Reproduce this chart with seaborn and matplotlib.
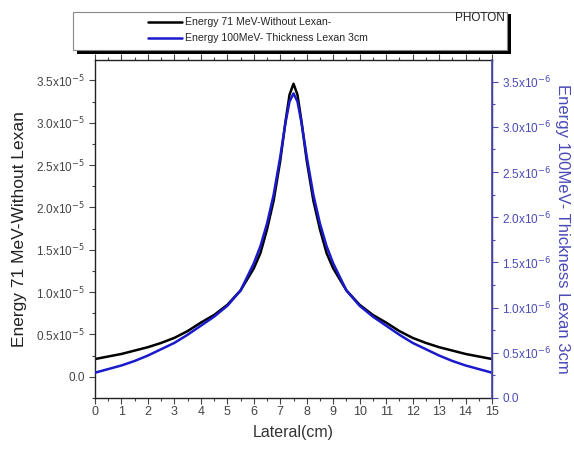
import numpy as np
import pandas as pd
import seaborn as sns
import matplotlib.pyplot as plt
from matplotlib.patches import Rectangle
from matplotlib.lines import Line2D
from matplotlib.ticker import MultipleLocator, FuncFormatter

sns.set_theme(style="white")
plt.rcParams['font.family'] = ['Liberation Sans', 'DejaVu Sans']

lateral = [0, 0.5, 1, 1.5, 2, 2.5, 3, 3.5, 4, 4.5, 5, 5.5, 6, 6.25, 6.5, 6.75, 7, 7.2, 7.35, 7.5,
           7.65, 7.8, 8, 8.25, 8.5, 8.75, 9, 9.5, 10, 10.5, 11, 11.5, 12, 12.5, 13, 13.5, 14, 14.5, 15]
energy71 = [0.21, 0.24, 0.27, 0.31, 0.35, 0.40, 0.46, 0.54, 0.64, 0.73, 0.85, 1.02, 1.28, 1.46, 1.74, 2.08, 2.55, 3.02, 3.33, 3.46,
            3.33, 3.02, 2.55, 2.08, 1.74, 1.46, 1.28, 1.02, 0.85, 0.73, 0.64, 0.54, 0.46, 0.40, 0.35, 0.31, 0.27, 0.24, 0.21]
energy100 = [0.28, 0.32, 0.36, 0.41, 0.47, 0.54, 0.61, 0.70, 0.80, 0.90, 1.02, 1.19, 1.49, 1.68, 1.93, 2.25, 2.67, 3.05, 3.28, 3.37,
             3.28, 3.05, 2.67, 2.25, 1.93, 1.68, 1.49, 1.19, 1.02, 0.90, 0.80, 0.70, 0.61, 0.54, 0.47, 0.41, 0.36, 0.32, 0.28]
label71 = "Energy 71 MeV-Without Lexan-"
label100 = "Energy 100MeV- Thickness Lexan 3cm"
ylabel_left = "Energy 71 MeV-Without Lexan"
ylabel_right = "Energy 100MeV- Thickness Lexan 3cm"
xlabel = "Lateral(cm)"
tag = "PHOTON"

df = pd.DataFrame({"x": lateral, "e71": energy71, "e100": energy100})

W, H = 574, 453
fig = plt.figure(figsize=(W / 100, H / 100), dpi=100)
ax = fig.add_axes([95 / W, 1 - 398 / H, (492 - 95) / W, (398 - 60) / H])
ax2 = ax.twinx()

blue = "#1a1acc"
axblue = "#4a4ab8"

sns.lineplot(data=df, x="x", y="e71", ax=ax, color="black", lw=1.8, sort=False)
sns.lineplot(data=df, x="x", y="e100", ax=ax2, color=blue, lw=1.8, sort=False)

ax.set_xlim(0, 15)
ax.set_ylim(-0.25, 3.74)
ax2.set_ylim(0, 3.74)

def fmt(exp):
    def f(v, pos):
        if abs(v) < 1e-9:
            return "0.0"
        return f"{v:.1f}x10$^{{{exp}}}$"
    return f

for a in (ax, ax2):
    a.yaxis.set_major_locator(MultipleLocator(0.5))
    a.yaxis.set_minor_locator(MultipleLocator(0.25))
ax.yaxis.set_major_formatter(FuncFormatter(fmt("-5")))
ax2.yaxis.set_major_formatter(FuncFormatter(fmt("-6")))
ax.xaxis.set_major_locator(MultipleLocator(1))
ax.xaxis.set_minor_locator(MultipleLocator(0.5))

ax.tick_params(axis="both", which="major", direction="out", length=4, width=0.8,
               labelsize=8.5, colors="#444444", top=True, left=True, bottom=True)
ax.tick_params(axis="both", which="minor", direction="out", length=2.5, width=0.8,
               top=True, left=True, bottom=True, colors="#444444")
ax.tick_params(axis="x", labelsize=9, pad=2)
ax2.tick_params(axis="y", which="major", direction="out", length=4, width=0.8,
                labelsize=8.5, colors=axblue, right=True)
ax2.tick_params(axis="y", which="minor", direction="out", length=2.5, width=0.8,
                colors=axblue, right=True)

for s in ax.spines.values():
    s.set_color("#222222")
    s.set_linewidth(1.0)
ax2.spines["right"].set_color(axblue)
ax2.spines["right"].set_linewidth(1.2)
for k in ("left", "top", "bottom"):
    ax2.spines[k].set_visible(False)

ax.set_xlabel(xlabel, fontsize=11.5, color="#333333", labelpad=5)
ax.set_ylabel(ylabel_left, fontsize=12.5, color="#222222", labelpad=6)
ax2.set_ylabel(ylabel_right, fontsize=12, color=axblue, rotation=-90, labelpad=13)

# legend box with shadow
fig.patches.append(Rectangle((77 / W, 1 - 54 / H), 434 / W, 40 / H, transform=fig.transFigure,
                             facecolor="black", edgecolor="none", zorder=1))
fig.patches.append(Rectangle((73 / W, 1 - 50 / H), 434 / W, 38 / H, transform=fig.transFigure,
                             facecolor="white", edgecolor="#888888", lw=0.8, zorder=2))
handles = [Line2D([], [], color="black", lw=1.8), Line2D([], [], color=blue, lw=1.8)]
leg = fig.legend(handles, [label71, label100], loc="upper left",
                 bbox_to_anchor=(140 / W, 1 - 9 / H), frameon=False, fontsize=7.6,
                 handlelength=3.2, handletextpad=0.3, labelspacing=0.55, borderpad=0.3)
leg.set_zorder(3)
fig.text(455 / W, 1 - 18 / H, tag, fontsize=8.5, color="#222222", ha="left", va="center", zorder=4)

fig.savefig("out.png", dpi=100)
